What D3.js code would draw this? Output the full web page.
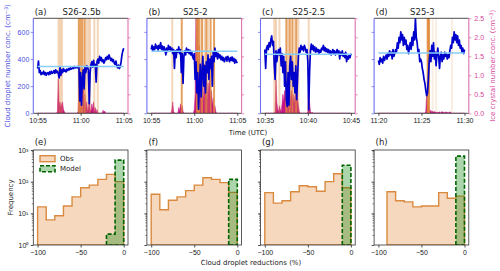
<!DOCTYPE html>
<html>
<head>
<meta charset="utf-8">
<script src="https://cdn.jsdelivr.net/npm/d3@7"></script>
<style>
  body { margin: 0; background: #fff; }
  svg { font-family: "DejaVu Sans", sans-serif; }
</style>
</head>
<body>
<div id="chart"></div>
<script>
// flight legs
const legNames = ["S26-2.5b", "S25-2", "S25-2.5", "S25-3"];
const topTags = ["(a)", "(b)", "(c)", "(d)"];
const histTags = ["(e)", "(f)", "(g)", "(h)"];
const legStart = [655, 655, 635, 680];   // minutes after midnight (UTC)
const timeTicks = [0, 5, 10];             // minutes after leg start

// cloud droplet number conc. (cm-3), one value every 0.1 min
const dropA = [330,385,300,315,285,300,290,310,285,300, 280,295,300,285,305,290,310,295,300,315,
  295,320,300,310,295,260,340,280,320,300, 330,310,320,305,325,315,330,320,335,325,
  330,340,330,345,335,340,335,345,340,90, 300,60,250,320,180,340,300,350,340,320,
  70,300,360,380,340,390,350,360,230,380, 400,370,420,390,410,380,395,370,385,410,
  395,420,400,430,410,390,405,380,395,370, 360,385,350,335,355,330,345,380,430,460, 480];
const dropB = [470,500,460,490,470,510,480,495,465,500, 480,520,470,495,460,490,470,430,480,455,
  500,470,490,460,480,440,470,330,460,410, 470,450,490,440,470,300,440,220,420,460,
  430,480,450,470,440,465,430,455,420,400, 440,250,380,150,300,30,200,360,120,300,
  420,200,350,150,380,300,430,250,400,330, 420,200,450,380,480,420,450,400,440,410,
  430,395,420,390,410,380,400,415,385,420, 400,380,410,390,415,385,405,370,395,380, 370];
const dropC = [470,330,480,500,470,520,490,540,570,500, 530,350,250,460,380,440,470,430,480,350,
  440,300,420,200,380,100,50,300,60,350, 420,250,380,200,300,150,350,100,250,420,
  480,450,500,470,490,460,500,480,450,470, 380,25,300,460,510,470,500,460,490,450,
  480,455,470,440,465,450,480,470,500,460, 485,455,475,450,470,440,460,430,450,470,
  440,460,430,450,470,440,460,400,450,430, 460,420,440,410,450,380,420,400,430,410, 440];
const dropD = [390,360,410,380,400,370,420,390,410,430, 400,440,420,460,430,450,400,470,420,440,
  470,450,520,480,560,520,600,540,580,500, 560,510,540,470,500,440,480,520,470,560,
  500,600,540,700,560,520,450,470,380,400, 380,330,300,250,220,170,130,150,250,380,
  460,380,500,420,520,400,450,350,430,480, 420,330,420,450,380,430,400,450,420,440,
  400,430,410,460,500,480,560,520,600,540, 580,520,570,500,540,480,500,450,480,440, 470];
const dropMean = [345, 458, 435, 445];

// ice crystal number conc. (cm-3), same sampling
const iceA = [0,0,0,0,0,0,0,0,0,0, 0,0,0,0,0,0,0,0,0,0,
  0,0,0,0.05,0.9,0.2,0.3,0.15,0.25,0.3, 0.1,0.05,0,0,0,0,0,0,0,0,
  0,0,0,0,0,0,0,0.05,0.6,1.2, 0.4,1.0,0.3,0.8,0.2,0.5,0.1,0.3,0.05,0.15,
  0.35,0.1,0.05,0.25,0.1,0.3,0.05,0.15,0,0.1, 0,0,0,0,0,0,0.08,0.02,0.06,0,
  0,0,0,0,0,0,0,0,0,0, 0,0,0,0,0,0,0,0,0,0, 0];
const iceB = [0,0,0,0,0,0,0,0,0,0, 0,0,0,0,0,0,0,0,0,0,
  0,0,0,0,0.1,0.3,0.05,0,0,0, 0,0,0.15,0.05,0.25,0.1,0.2,0.05,0,0,
  0,0,0,0,0,0,0,0,0,0, 0.1,0.5,2.6,1.5,2.6,0.8,1.8,0.5,1.0,0.4,
  0.7,0.3,1.3,0.4,0.9,0.3,0.8,0.5,1.0,0.3, 0.6,0.2,0.4,0.1,0.2,0.05,0,0,0,0,
  0,0,0,0,0,0,0,0,0,0, 0,0,0,0,0,0,0,0,0,0, 0];
const iceC = [0,0,0,0,0,0,0,0,0,0, 0,0,0.05,0.88,0.3,0.1,0.05,0.2,0.1,0.05,
  0.25,0.5,0.3,0.6,0.4,0.85,0.5,0.7,0.3,0.55, 0.35,0.6,0.3,0.5,0.25,0.45,0.6,0.8,0.4,0.2,
  0.05,0,0,0,0,0,0,0,0,0, 0.05,0.88,0.3,0.05,0,0.03,0,0,0,0,
  0,0,0,0,0,0,0,0,0,0, 0,0,0,0,0,0,0,0,0,0,
  0,0,0,0,0,0,0,0,0,0, 0,0,0,0,0,0,0,0,0,0, 0];
const iceD = [0,0,0,0,0,0,0,0,0,0, 0,0,0,0,0,0,0,0,0,0,
  0,0,0,0,0,0,0,0,0,0, 0,0,0,0,0,0,0,0,0,0,
  0,0,0,0,0,0,0,0,0,0, 0,0,0,0,0,0.05,0.5,0.45,0.3,0.1,
  0.05,0.08,0.02,0.06,0.03,0.05,0.02,0.04,0.01,0.03, 0.02,0.04,0.01,0.03,0.05,0.02,0.03,0.01,0.04,0.02,
  0.03,0.01,0.02,0.04,0.02,0,0,0,0,0, 0,0,0,0,0,0,0,0,0,0, 0];

// marked times (min after start) and how strong the mark is (0 faint .. 2 strong)
const markA = [2.43,2.63,2.83,4.79,4.98,5.18,5.45,5.65,5.88,6.08,6.59,6.99];
const markLevelA = [1,1,1,2,2,2,2,1,1,1,1,1];
const markB = [2.45,3.55,5.3,5.45,5.6,5.9,6.2,6.4,6.6,6.9,7.3];
const markLevelB = [1,2,2,2,2,2,1,2,1,2,2];
const markC = [1.1,1.3,1.7,2.5,2.7,2.9,3.2,3.45,3.65,3.9,5.1];
const markLevelC = [1,1,1,2,1,2,2,1,2,1,1];
const markD = [5.72,5.8,5.88,6.3,6.7,8.55];
const markLevelD = [2,2,2,0,0,0];

// histograms of cloud droplet reductions (%)
const binEdges = [-100,-90,-80,-70,-60,-50,-40,-30,-20,-10,0];
const obsE = [16,6.2,8.4,17,33,64,78,118,170,100];
const modelE = [0,0,0,0,0,0,0,0,2.2,480];
const obsF = [40,13,26,33,52,78,133,118,93,46];
const modelF = [0,0,0,0,0,0,0,0,0,118];
const obsG = [45,21,25,48,74,69,50,100,178,64];
const modelG = [0,0,0,0,0,0,0,0,0,330];
const obsH = [0,48,25,23,16,17,17,45,30,35];
const modelH = [0,0,0,0,0,0,0,0,0,640];

const drops = [dropA, dropB, dropC, dropD];
const ices = [iceA, iceB, iceC, iceD];
const marks = [markA, markB, markC, markD];
const markLevels = [markLevelA, markLevelB, markLevelC, markLevelD];
const obsAll = [obsE, obsF, obsG, obsH];
const modelAll = [modelE, modelF, modelG, modelH];

const blue = "#0000cd", pink = "#c71585";
const lefts = [0, 1, 2, 3].map(i => 33.3 + i * 113.6);
const pw = 94.7;
const top1 = 18.3, bot1 = 113.3, top2 = 150, bot2 = 245;
const fs = 7;

const svg = d3.select("#chart").append("svg")
  .attr("width", 500).attr("height", 271);
const defs = svg.append("defs");

function styleAxis(g, color, showLabels) {
  g.select(".domain").remove();
  g.selectAll(".tick line").attr("stroke", color).attr("stroke-width", 0.8);
  g.selectAll(".tick text").attr("fill", color).attr("font-size", fs)
    .style("display", showLabels ? null : "none");
}

lefts.forEach((L, i) => {
  // ---------- time series ----------
  const x = d3.scaleLinear().domain([-0.5, 10.5]).range([L, L + pw]);
  const yL = d3.scaleLinear().domain([0, 700]).range([bot1, top1]);
  const yR = d3.scaleLinear().domain([0, 2.5]).range([bot1, top1]);
  const tOf = k => k * 0.1;

  defs.append("clipPath").attr("id", "clipT" + i).append("rect")
    .attr("x", L).attr("y", top1).attr("width", pw).attr("height", bot1 - top1);
  const g = svg.append("g").attr("clip-path", `url(#clipT${i})`);

  g.append("path").datum(ices[i])
    .attr("d", d3.area().x((d, k) => x(tOf(k))).y0(yR(0)).y1(d => yR(d)))
    .attr("fill", pink).attr("stroke", pink).attr("stroke-width", 0.5);

  g.selectAll(".mark").data(marks[i]).enter().append("line")
    .attr("x1", d => x(d)).attr("x2", d => x(d))
    .attr("y1", top1).attr("y2", bot1)
    .attr("stroke", "#e0893a").attr("stroke-width", 2)
    .attr("stroke-opacity", (d, k) => [0.15, 0.35, 0.8][markLevels[i][k]]);

  g.append("path").datum(drops[i])
    .attr("d", d3.line().x((d, k) => x(tOf(k))).y(d => yL(d)))
    .attr("fill", "none").attr("stroke", blue).attr("stroke-width", 1.7)
    .attr("stroke-linejoin", "round");

  g.append("line")
    .attr("x1", x(0)).attr("x2", x(10))
    .attr("y1", yL(dropMean[i])).attr("y2", yL(dropMean[i]))
    .attr("stroke", "#87cefa").attr("stroke-width", 1.5);

  const fmt = d => {
    const m = legStart[i] + d;
    return Math.floor(m / 60) + ":" + String(m % 60).padStart(2, "0");
  };
  const gx = svg.append("g").attr("transform", `translate(0,${bot1})`)
    .call(d3.axisBottom(x).tickValues(timeTicks).tickFormat(fmt).tickSize(2.5).tickPadding(2.7));
  styleAxis(gx, "#222", true);

  const gl = svg.append("g").attr("transform", `translate(${L},0)`)
    .call(d3.axisLeft(yL).tickValues([0, 200, 400, 600]).tickSize(2.5).tickPadding(1.5));
  styleAxis(gl, "#4a4ae6", i === 0);
  gl.selectAll(".tick line").attr("stroke", "#6a6af2");

  const gr = svg.append("g").attr("transform", `translate(${L + pw},0)`)
    .call(d3.axisRight(yR).tickValues([0, 0.5, 1, 1.5, 2, 2.5]).tickFormat(d3.format(".1f"))
      .tickSize(2.5).tickPadding(3));
  styleAxis(gr, "#d9439c", i === 3);
  gr.selectAll(".tick line").attr("stroke", "#e070b0");

  // spines
  svg.append("line").attr("x1", L).attr("x2", L + pw).attr("y1", top1).attr("y2", top1)
    .attr("stroke", "#222").attr("stroke-width", 0.8);
  svg.append("line").attr("x1", L).attr("x2", L + pw).attr("y1", bot1).attr("y2", bot1)
    .attr("stroke", "#222").attr("stroke-width", 0.8);
  svg.append("line").attr("x1", L).attr("x2", L).attr("y1", top1).attr("y2", bot1)
    .attr("stroke", "#7070f4").attr("stroke-width", 1.1);
  svg.append("line").attr("x1", L + pw).attr("x2", L + pw).attr("y1", top1).attr("y2", bot1)
    .attr("stroke", "#e070b0").attr("stroke-width", 1.1);

  svg.append("text").attr("x", L + 1.5).attr("y", 14.5).attr("font-size", 8.5)
    .attr("fill", "#222").text(topTags[i]);
  svg.append("text").attr("x", L + pw / 2 + 1).attr("y", 14.5).attr("font-size", 8.5)
    .attr("text-anchor", "middle").attr("fill", "#222").text(legNames[i]);

  // ---------- histograms ----------
  const xh = d3.scaleLinear().domain([-105, 5]).range([L, L + pw]);
  const yh = d3.scaleLog().domain([1, 1000]).range([bot2, top2]);
  const yv = v => v > 0 ? yh(Math.max(v, 1)) : yh(1);

  defs.append("clipPath").attr("id", "clipH" + i).append("rect")
    .attr("x", L).attr("y", top2).attr("width", pw).attr("height", bot2 - top2);
  const h = svg.append("g").attr("clip-path", `url(#clipH${i})`);

  const stepPts = vals => {
    const first = vals.findIndex(v => v > 0);
    const pts = [[binEdges[first], 1]];
    for (let k = first; k < vals.length; k++) {
      pts.push([binEdges[k], vals[k]], [binEdges[k + 1], vals[k]]);
    }
    pts.push([binEdges[binEdges.length - 1], 1]);
    return pts;
  };
  const stepLine = d3.line().x(d => xh(d[0])).y(d => yv(d[1]));

  h.append("path").datum(stepPts(obsAll[i]))
    .attr("d", d => stepLine(d) + "Z")
    .attr("fill", "#f6d8bf").attr("stroke", "#d98a3f").attr("stroke-width", 1.4)
    .attr("stroke-linejoin", "miter");
  h.append("path").datum(stepPts(modelAll[i]))
    .attr("d", d => stepLine(d) + "Z")
    .attr("fill", "green").attr("fill-opacity", 0.33)
    .attr("stroke", "#006400").attr("stroke-width", 1.6).attr("stroke-dasharray", "4,2");

  const hx = svg.append("g").attr("transform", `translate(0,${bot2})`)
    .call(d3.axisBottom(xh).tickValues([-100, -50, 0]).tickSize(2.5).tickPadding(2.7));
  styleAxis(hx, "#222", true);

  const sup = ["\u2070", "\u00b9", "\u00b2", "\u00b3"];
  const hy = svg.append("g").attr("transform", `translate(${L},0)`)
    .call(d3.axisLeft(yh).tickValues([1, 10, 100, 1000])
      .tickFormat(d => "10" + sup[Math.round(Math.log10(d))]).tickSize(2.5).tickPadding(2.5));
  styleAxis(hy, "#222", i === 0);

  const minor = [];
  [1, 10, 100].forEach(dec => [2,3,4,5,6,7,8,9].forEach(m => minor.push(dec * m)));
  svg.append("g").selectAll("line").data(minor).enter().append("line")
    .attr("x1", L - 1.5).attr("x2", L).attr("y1", d => yh(d)).attr("y2", d => yh(d))
    .attr("stroke", "#222").attr("stroke-width", 0.6);

  svg.append("rect").attr("x", L).attr("y", top2).attr("width", pw).attr("height", bot2 - top2)
    .attr("fill", "none").attr("stroke", "#333").attr("stroke-width", 0.8);

  svg.append("text").attr("x", L + 1.5).attr("y", 144.5).attr("font-size", 8.5)
    .attr("fill", "#222").text(histTags[i]);
});

// legend in (e)
const lg = svg.append("g");
lg.append("rect").attr("x", 40).attr("y", 155.7).attr("width", 15).attr("height", 6)
  .attr("fill", "#f6d8bf").attr("stroke", "#d98a3f").attr("stroke-width", 1.4);
lg.append("text").attr("x", 60).attr("y", 161.3).attr("font-size", fs).attr("fill", "#222").text("Obs");
lg.append("rect").attr("x", 40).attr("y", 165.7).attr("width", 15).attr("height", 6)
  .attr("fill", "green").attr("fill-opacity", 0.33)
  .attr("stroke", "#006400").attr("stroke-width", 1.6).attr("stroke-dasharray", "4,2");
lg.append("text").attr("x", 60).attr("y", 171.3).attr("font-size", fs).attr("fill", "#222").text("Model");

// axis titles
svg.append("text").attr("transform", "translate(10,65.8) rotate(-90)")
  .attr("text-anchor", "middle").attr("font-size", fs).attr("fill", "#4a4ae6")
  .html("Cloud droplet number conc. (cm<tspan dy='-2.5' font-size='5'>\u22123</tspan><tspan dy='2.5'>)</tspan>");
svg.append("text").attr("transform", "translate(495,65.8) rotate(-90)")
  .attr("text-anchor", "middle").attr("font-size", fs).attr("fill", "#d9439c")
  .html("Ice crystal number conc. (cm<tspan dy='-2.5' font-size='5'>\u22123</tspan><tspan dy='2.5'>)</tspan>");
svg.append("text").attr("x", 248).attr("y", 135).attr("text-anchor", "middle")
  .attr("font-size", fs).attr("fill", "#222").text("Time (UTC)");
svg.append("text").attr("transform", "translate(13,197.5) rotate(-90)")
  .attr("text-anchor", "middle").attr("font-size", fs).attr("fill", "#222").text("Frequency");
svg.append("text").attr("x", 251).attr("y", 264.5).attr("text-anchor", "middle")
  .attr("font-size", fs).attr("fill", "#222").text("Cloud droplet reductions (%)");
</script>
</body>
</html>
